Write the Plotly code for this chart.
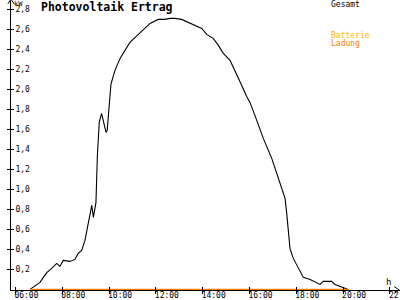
import plotly.graph_objects as go

# Data (hours, kW)
hours = [6.62, 6.83, 7.05, 7.19, 7.35, 7.55, 7.76, 7.9, 8.04, 8.33, 8.54, 8.68, 8.83, 8.97,
         9.07, 9.2, 9.26, 9.33, 9.44, 9.5, 9.58, 9.68, 9.75, 9.87, 9.92, 10.0, 10.08, 10.25,
         10.47, 10.89, 11.32, 11.75, 12.1, 12.39, 12.6, 12.82, 13.1, 13.6, 13.96, 14.17,
         14.45, 14.67, 14.88, 15.17, 15.38, 15.67, 15.88, 16.02, 16.23, 16.59, 16.95, 17.16,
         17.38, 17.52, 17.59, 17.66, 17.73, 17.87, 18.08, 18.3, 18.59, 18.87, 19.01, 19.15,
         19.51, 19.65, 19.87, 20.22]
gesamt = [0.0, 0.03, 0.07, 0.12, 0.17, 0.21, 0.26, 0.23, 0.29, 0.28, 0.30, 0.36, 0.39, 0.49,
          0.61, 0.80, 0.84, 0.72, 0.87, 1.34, 1.67, 1.76, 1.69, 1.57, 1.59, 1.84, 2.05, 2.19,
          2.31, 2.47, 2.57, 2.66, 2.70, 2.70, 2.71, 2.71, 2.70, 2.65, 2.61, 2.55,
          2.51, 2.44, 2.36, 2.29, 2.19, 2.04, 1.93, 1.87, 1.74, 1.51, 1.31, 1.17,
          1.02, 0.91, 0.76, 0.60, 0.41, 0.31, 0.22, 0.12, 0.10, 0.07, 0.05, 0.08,
          0.08, 0.05, 0.03, 0.0]
ladung_hours = [6.62, 20.2]
ladung = [0.0, 0.0]

x_tickvals = [6, 8, 10, 12, 14, 16, 18, 20, 22]
x_ticktext = ["06:00", "08:00", "10:00", "12:00", "14:00", "16:00", "18:00", "20:00", "22:00"]
y_tickvals = [0.2, 0.4, 0.6, 0.8, 1.0, 1.2, 1.4, 1.6, 1.8, 2.0, 2.2, 2.4, 2.6, 2.8]

FONT = "DejaVu Sans Mono"
XR = [5.81, 22.43]
YR = [-0.006, 2.884]

fig = go.Figure()
fig.add_trace(go.Scatter(x=hours, y=gesamt, mode="lines", cliponaxis=False,
                         line=dict(color="black", width=1.1), hoverinfo="skip"))
fig.add_trace(go.Scatter(x=ladung_hours, y=ladung, mode="lines", cliponaxis=False,
                         line=dict(color="#FF8000", width=1.5), hoverinfo="skip"))
# dummy trace for overlay axes (crossing ticks)
fig.add_trace(go.Scatter(x=[None], y=[None], xaxis="x2", yaxis="y2", showlegend=False))

common_font = dict(family=FONT, size=8, color="black")
fig.update_layout(
    width=400, height=300,
    margin=dict(l=11, r=0, t=1, b=10, autoexpand=False),
    paper_bgcolor="white", plot_bgcolor="white",
    showlegend=False,
    separators=",.",
    font=common_font,
    xaxis=dict(range=XR, tickvals=x_tickvals, ticktext=x_ticktext, ticks="outside",
               ticklen=3, tickcolor="black", showgrid=False, zeroline=False,
               showline=True, linecolor="black", linewidth=1, automargin=False,
               tickfont=common_font, ticklabelshift=11, ticklabelstandoff=-6,
               ticklabeloverflow="allow", layer="below traces"),
    yaxis=dict(range=YR, tickvals=y_tickvals, tickformat=".1f", ticks="outside",
               ticklen=3, tickcolor="black", showgrid=False, zeroline=False,
               showline=True, linecolor="black", linewidth=1, automargin=False,
               ticklabelposition="inside", tickfont=common_font,
               ticklabelstandoff=3, ticklabeloverflow="allow", layer="below traces"),
    xaxis2=dict(range=XR, overlaying="x", tickvals=x_tickvals, ticks="inside",
                ticklen=3, tickcolor="black", showticklabels=False, showgrid=False,
                zeroline=False, showline=False, automargin=False),
    yaxis2=dict(range=YR, overlaying="y", tickvals=y_tickvals, ticks="inside",
                ticklen=3, tickcolor="black", showticklabels=False, showgrid=False,
                zeroline=False, showline=False, automargin=False),
)

# axis arrows
fig.add_shape(type="path", xref="paper", yref="paper",
              path="M -0.008 0.99 L 0 1.006 L 0.008 0.99", line=dict(color="black", width=1))
fig.add_shape(type="path", xref="paper", yref="paper",
              path="M 0.985 0.012 L 0.998 0.0 L 0.985 -0.012", line=dict(color="black", width=1))

def ann(text, x, y, size, color="black", bold=False, xanchor="left"):
    fig.add_annotation(text=f"<b>{text}</b>" if bold else text, x=x, y=y,
                       xref="paper", yref="paper", xanchor=xanchor, yanchor="middle",
                       showarrow=False, font=dict(family=FONT, size=size, color=color))

def px_x(p):
    return (p - 11) / 389

def px_y(p):
    return (290 - p) / 289

ann("Photovoltaik Ertrag", px_x(39), px_y(7), 11.5, bold=True)
ann("kW", px_x(12), px_y(3.5), 7)
ann("h", px_x(384), px_y(282), 9)
ann("Gesamt", px_x(329), px_y(4.5), 8)
ann("Batterie", px_x(329), px_y(36), 8, color="#FFB400")
ann("Ladung", px_x(329), px_y(44), 8, color="#FF8000")

fig.write_html("out.html")
